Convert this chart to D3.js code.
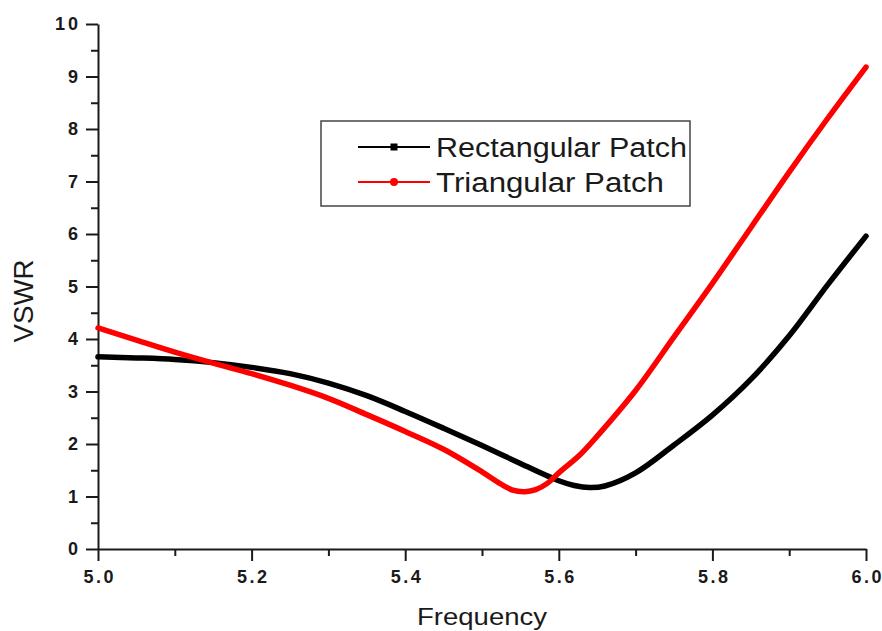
<!DOCTYPE html>
<html>
<head>
<meta charset="utf-8">
<script src="https://cdn.jsdelivr.net/npm/d3@7"></script>
<style>
  html, body { margin: 0; padding: 0; background: #fff; }
  svg { display: block; font-family: "Liberation Sans", Arial, sans-serif; }
</style>
</head>
<body>
<svg id="chart" width="882" height="631"></svg>
<script>
// VSWR against frequency (GHz) for the two patch antennas
const rectFreq = [5.00, 5.05, 5.10, 5.15, 5.20, 5.25, 5.30, 5.35, 5.40, 5.45, 5.50, 5.55, 5.60, 5.62, 5.64, 5.66, 5.70, 5.75, 5.80, 5.85, 5.90, 5.95, 6.00];
const rectVswr = [3.66, 3.64, 3.61, 3.55, 3.46, 3.34, 3.16, 2.92, 2.62, 2.30, 1.97, 1.63, 1.30, 1.21, 1.17, 1.20, 1.45, 1.98, 2.55, 3.23, 4.06, 5.03, 5.96];

const triFreq = [5.00, 5.05, 5.10, 5.15, 5.20, 5.25, 5.30, 5.35, 5.40, 5.45, 5.50, 5.52, 5.54, 5.556, 5.57, 5.585, 5.60, 5.628, 5.65, 5.70, 5.75, 5.80, 5.85, 5.90, 5.95, 6.00];
const triVswr = [4.21, 3.98, 3.75, 3.54, 3.34, 3.12, 2.87, 2.56, 2.24, 1.90, 1.47, 1.28, 1.12, 1.09, 1.13, 1.25, 1.45, 1.80, 2.15, 3.02, 4.04, 5.06, 6.12, 7.18, 8.20, 9.18];

const xTicks = [5.0, 5.2, 5.4, 5.6, 5.8, 6.0];
const yTicks = [0, 1, 2, 3, 4, 5, 6, 7, 8, 9, 10];
const seriesNames = ["Rectangular Patch", "Triangular Patch"];
const seriesColors = ["#000000", "#ff0000"];

const svg = d3.select("#chart");
const plot = { left: 98, right: 866, top: 24, bottom: 549 };
const ink = "#1a1a1a";

const x = d3.scaleLinear().domain([5.0, 6.0]).range([plot.left, plot.right]);
const y = d3.scaleLinear().domain([0, 10]).range([plot.bottom, plot.top]);

// minor ticks half-way between the labelled ones
const xMinor = d3.range(5.1, 6.0, 0.2);
const yMinor = d3.range(0.5, 10, 1);

const axisStyle = g => {
  g.selectAll("path.domain").attr("stroke", ink).attr("stroke-width", 2);
  g.selectAll(".tick line").attr("stroke", ink).attr("stroke-width", 2);
  g.selectAll(".tick text")
    .attr("fill", ink)
    .attr("font-size", 18)
    .attr("font-weight", "bold")
    .attr("font-family", "'Liberation Sans', Arial, sans-serif");
};

// x axis
svg.append("g")
  .attr("transform", `translate(0,${plot.bottom})`)
  .call(d3.axisBottom(x).tickValues(xMinor).tickSize(7).tickFormat(""))
  .call(g => g.select("path.domain").remove())
  .call(axisStyle);
svg.append("g")
  .attr("transform", `translate(0,${plot.bottom})`)
  .call(d3.axisBottom(x).tickValues(xTicks).tickSize(12).tickSizeOuter(0).tickPadding(9).tickFormat(d3.format(".1f")))
  .call(axisStyle)
  .call(g => g.selectAll(".tick text")
    .attr("textLength", 30)
    .attr("lengthAdjust", "spacing"));

// y axis
svg.append("g")
  .attr("transform", `translate(${plot.left},0)`)
  .call(d3.axisLeft(y).tickValues(yMinor).tickSize(7).tickFormat(""))
  .call(g => g.select("path.domain").remove())
  .call(axisStyle);
svg.append("g")
  .attr("transform", `translate(${plot.left},0)`)
  .call(d3.axisLeft(y).tickValues(yTicks).tickSize(12).tickSizeOuter(0).tickPadding(8).tickFormat(d3.format("d")))
  .call(axisStyle)
  .call(g => g.selectAll(".tick text")
    .filter(d => d >= 10)
    .attr("textLength", 23)
    .attr("lengthAdjust", "spacing"));

// axis titles
svg.append("text")
  .attr("x", (plot.left + plot.right) / 2)
  .attr("y", 625)
  .attr("text-anchor", "middle")
  .attr("font-size", 24)
  .attr("textLength", 130)
  .attr("lengthAdjust", "spacingAndGlyphs")
  .attr("fill", ink)
  .text("Frequency");
svg.append("text")
  .attr("transform", `translate(33,301) rotate(-90)`)
  .attr("text-anchor", "middle")
  .attr("font-size", 27)
  .attr("textLength", 83)
  .attr("lengthAdjust", "spacingAndGlyphs")
  .attr("fill", ink)
  .text("VSWR");

// curves
const line = d3.line()
  .x(d => x(d[0]))
  .y(d => y(d[1]))
  .curve(d3.curveCatmullRom.alpha(0.5));

const series = [
  d3.zip(rectFreq, rectVswr),
  d3.zip(triFreq, triVswr)
];

series.forEach((pts, i) => {
  svg.append("path")
    .datum(pts)
    .attr("fill", "none")
    .attr("stroke", seriesColors[i])
    .attr("stroke-width", 5.5)
    .attr("stroke-linejoin", "round")
    .attr("stroke-linecap", "round")
    .attr("d", line);
});

// legend
const legend = svg.append("g");
legend.append("rect")
  .attr("x", 321).attr("y", 121)
  .attr("width", 369).attr("height", 85)
  .attr("fill", "#fff")
  .attr("stroke", "#444")
  .attr("stroke-width", 1.5);

const legendWidths = [251, 228];
seriesNames.forEach((name, i) => {
  const base = 157 + i * 35;
  const cy = base - 10;
  legend.append("line")
    .attr("x1", 358).attr("x2", 430)
    .attr("y1", cy).attr("y2", cy)
    .attr("stroke", seriesColors[i])
    .attr("stroke-width", 2);
  if (i === 0) {
    legend.append("rect")
      .attr("x", 390.5).attr("y", cy - 3.5)
      .attr("width", 7).attr("height", 7)
      .attr("fill", seriesColors[i]);
  } else {
    legend.append("circle")
      .attr("cx", 394).attr("cy", cy)
      .attr("r", 4)
      .attr("fill", seriesColors[i]);
  }
  legend.append("text")
    .attr("x", 436).attr("y", base)
    .attr("font-size", 27)
    .attr("textLength", legendWidths[i])
    .attr("lengthAdjust", "spacingAndGlyphs")
    .attr("fill", ink)
    .text(name);
});
</script>
</body>
</html>
